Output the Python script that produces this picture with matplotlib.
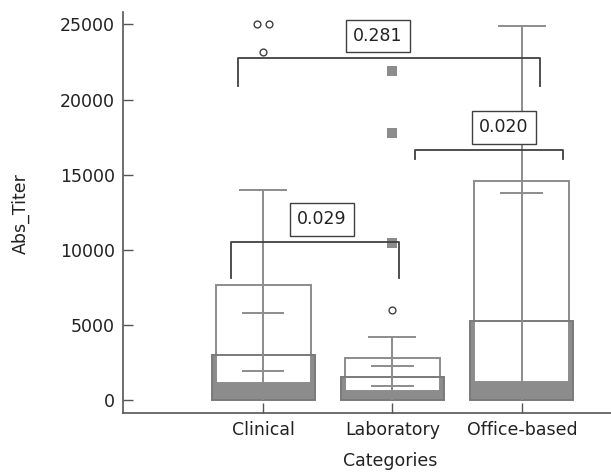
import matplotlib

matplotlib.use("Agg")

import matplotlib.pyplot as plt
import numpy as np

categories = ["Clinical", "Laboratory", "Office-based"]
means = [3020, 1580, 5300]
ci_low = [1960, 960, 320]
ci_high = [5790, 2290, 13800]
q1 = [1160, 630, 1250]
q3 = [7670, 2800, 14620]
whisk_low = [30, 30, 50]
whisk_high = [14000, 4200, 24930]
mild_outliers = [[25050, 25050, 23160], [6010], []]
extreme_outliers = [[], [21940, 17810, 10480], []]
pairs = [(0, 1), (0, 2), (1, 2)]
p_labels = ["0.029", "0.281", "0.020"]

GRAY = "#8c8c8c"
DARK = "#404040"
FS = 12.5

plt.rcParams["font.family"] = "DejaVu Sans"

fig = plt.figure(figsize=(6.11, 4.74), dpi=100)
ax = fig.add_axes([0.2013, 0.1287, 0.7987, 0.846])
x = np.arange(len(categories))

# mean bars: fill under the box, outline on top of it
ax.bar(x, means, width=0.796, color=GRAY, edgecolor="none", zorder=1)
ax.bar(x, np.array(q3) - np.array(q1), bottom=q1, width=0.734, color="white",
       edgecolor=GRAY, linewidth=1.4, zorder=2)
ax.bar(x, means, width=0.796, fill=False, edgecolor="#7a7a7a", linewidth=1.4, zorder=3)

# whiskers
ax.vlines(x, whisk_low, whisk_high, color=GRAY, linewidth=1.4, zorder=4)
ax.hlines(whisk_high, x - 0.186, x + 0.186, color=GRAY, linewidth=1.4, zorder=4)
# confidence intervals
ax.hlines(ci_high, x - 0.166, x + 0.166, color=GRAY, linewidth=1.4, zorder=4)
ax.hlines(ci_low, x - 0.166, x + 0.166, color=GRAY, linewidth=1.4, zorder=4)

# outliers
for i, vals in enumerate(mild_outliers):
    vals = np.array(vals)
    xs = np.full(len(vals), float(i))
    for v in np.unique(vals):
        idx = np.where(vals == v)[0]
        if len(idx) > 1:
            xs[idx] = i + np.linspace(-0.043, 0.043, len(idx))
    ax.scatter(xs, vals, s=24, facecolor="white", edgecolor=DARK, linewidth=1.0, zorder=5)
for i, vals in enumerate(extreme_outliers):
    ax.scatter([i] * len(vals), vals, s=42, marker="s", color=GRAY, linewidth=0, zorder=5)

# significance brackets
br_x = [(-0.247, 1.05), (-0.193, 2.14), (1.175, 2.32)]
br_y = [10540, 22790, 16670]
br_leg = [8130, 20900, 16030]
txt_pos = [(0.456, 12050), (0.886, 24235), (1.860, 18160)]
for (xl, xr), yb, yl, (tx, ty), lab in zip(br_x, br_y, br_leg, txt_pos, p_labels):
    ax.plot([xl, xl, xr, xr], [yl, yb, yb, yl], color=DARK, linewidth=1.3, zorder=6)
    ax.text(tx, ty, lab, ha="center", va="center", fontsize=FS, color="#222222", zorder=7,
            bbox=dict(boxstyle="square,pad=0.42", facecolor="white", edgecolor=DARK, linewidth=1.0))

ax.set_xlim(-1.082, 2.689)
ax.set_ylim(-831, 25831)
ax.set_xticks(x)
ax.set_xticklabels(categories)
ax.set_yticks([0, 5000, 10000, 15000, 20000, 25000])
ax.tick_params(direction="in", length=7, width=1.0, color="#555555", labelsize=FS,
               labelcolor="#222222", pad=6)
for s in ["top", "right"]:
    ax.spines[s].set_visible(False)
for s in ["left", "bottom"]:
    ax.spines[s].set_color("#555555")
    ax.spines[s].set_linewidth(1.2)
ax.set_xlabel("Categories", fontsize=FS, color="#222222")
ax.set_ylabel("Abs_Titer", fontsize=FS, color="#222222")
ax.xaxis.set_label_coords(0.547, -0.098)
ax.yaxis.set_label_coords(-0.19, 0.4985)

fig.savefig("out.png", dpi=100, facecolor="white")
